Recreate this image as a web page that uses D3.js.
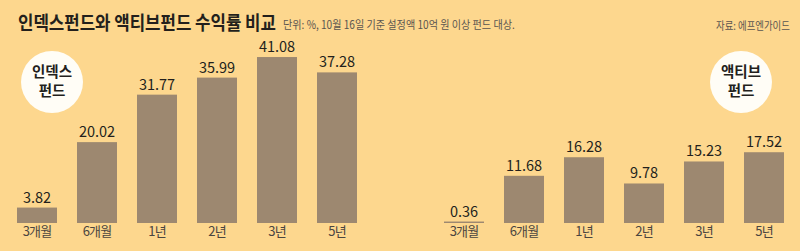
<!DOCTYPE html>
<html><head><meta charset="utf-8">
<script src="https://cdn.jsdelivr.net/npm/d3@7"></script>
<style>
html,body{margin:0;padding:0;background:#fdd78e;}
svg{display:block;}
text{font-family:"Noto Sans CJK KR","Noto Sans",sans-serif;}
</style></head>
<body>
<svg id="chart" width="800" height="251"></svg>
<script>
const categories = ["3개월","6개월","1년","2년","3년","5년"];
const indexValues = [3.82, 20.02, 31.77, 35.99, 41.08, 37.28];
const activeValues = [0.36, 11.68, 16.28, 9.78, 15.23, 17.52];
const groupNames = [["인덱스","펀드"],["액티브","펀드"]];
const titleText = "인덱스펀드와 액티브펀드 수익률 비교";
const subtitleText = "단위: %, 10월 16일 기준 설정액 10억 원 이상 펀드 대상.";
const sourceText = "자료: 에프엔가이드";

const svg = d3.select("#chart");
svg.append("rect").attr("width",800).attr("height",251).attr("fill","#fdd78e");

// fit text horizontally into a width with a transform (condensed newspaper type)
function fitText(x, yPos, width, size, weight, fill, str){
  const g = svg.append("g");
  const t = g.append("text").attr("x",0).attr("y",0).attr("font-size",size)
    .attr("font-weight",weight).attr("fill",fill).text(str);
  const w = t.node().getComputedTextLength();
  const s = width / w;
  g.attr("transform","translate("+x+","+yPos+") scale("+s+",1)");
  return g;
}
fitText(18, 30, 258, 19, "bold", "#231f1c", titleText);
fitText(283, 29, 232, 11.5, "normal", "#5a5550", subtitleText);
fitText(716, 30, 74, 11, "normal", "#5a5550", sourceText);

const y = d3.scaleLinear().domain([0,45]).range([223, 223-45*4.04]);

function drawPanel(values, rangeX, names, circle){
  const x = d3.scaleBand().domain(categories).range(rangeX).paddingInner(1/3).paddingOuter(1/6);
  const g = svg.append("g");
  g.selectAll("rect.bar").data(values).join("rect").attr("class","bar")
    .attr("x",(d,i)=>x(categories[i])).attr("width",x.bandwidth())
    .attr("y",d=>y(d)).attr("height",d=>y(0)-y(d)).attr("fill","#9d8870");
  g.selectAll("text.val").data(values).join("text").attr("class","val")
    .attr("x",(d,i)=>x(categories[i])+x.bandwidth()/2).attr("y",d=>y(d)-5)
    .attr("text-anchor","middle").attr("font-size",14.5).attr("fill","#231f1c")
    .text(d=>d.toFixed(2));
  const axis = d3.axisBottom(x).tickSize(0).tickPadding(0);
  const ag = g.append("g").attr("transform","translate(0,"+227+")").call(axis);
  ag.select(".domain").remove();
  ag.selectAll("text").attr("font-size",13).attr("fill","#4a4540").attr("dy","0.71em")
    .attr("font-family",'"Noto Sans CJK KR",sans-serif').style("letter-spacing","-0.8px");
  g.append("circle").attr("cx",circle[0]).attr("cy",circle[1]).attr("r",31).attr("fill","#fffdf6");
  g.append("text").attr("x",circle[0]).attr("y",circle[1]-5).attr("text-anchor","middle")
    .attr("font-size",14.5).attr("font-weight","bold").attr("fill","#231f1c").text(names[0]);
  g.append("text").attr("x",circle[0]).attr("y",circle[1]+14).attr("text-anchor","middle")
    .attr("font-size",14.5).attr("font-weight","bold").attr("fill","#231f1c").text(names[1]);
}
drawPanel(indexValues,[7,367],groupNames[0],[52,82]);
drawPanel(activeValues,[434,794],groupNames[1],[741,82]);
</script>
</body></html>
